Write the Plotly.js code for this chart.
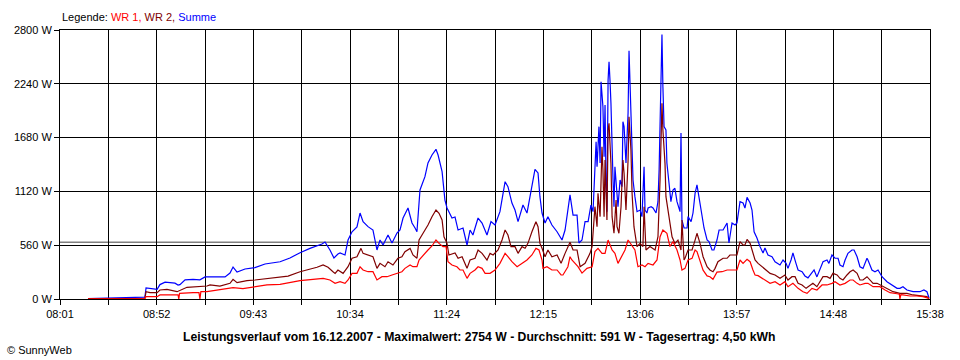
<!DOCTYPE html>
<html>
<head>
<meta charset="utf-8">
<script src="https://cdn.plot.ly/plotly-3.0.1.min.js"></script>
<style>html,body{margin:0;padding:0;background:#fff;}#chart{width:960px;height:360px;}</style>
</head>
<body>
<div id="chart"></div>
<script>
// time axis in minutes of the day (481 = 08:01)
const dayStart = 481;
const dayEnd = 938;
const xTickLabels = ['08:01','08:52','09:43','10:34','11:24','12:15','13:06','13:57','14:48','15:38'];
const yTickValues = [0, 560, 1120, 1680, 2240, 2800];
const yTickLabels = ['0 W', '560 W', '1120 W', '1680 W', '2240 W', '2800 W'];
const average = 591;

// Summe
const tSumme = [
495.7,502.0,512.5,517.8,525.6,526.2,528.3,532.0,533.5,536.2,
541.4,543.0,544.0,546.7,550.9,554.5,557.2,559.8,565.0,567.7,
570.3,571.9,574.0,578.2,583.4,588.7,596.6,601.8,607.1,612.3,
618.6,620.2,622.8,624.9,627.0,628.1,630.7,632.3,634.4,637.0,
638.6,640.2,642.8,645.4,647.5,649.1,650.7,653.3,655.4,658.0,
659.6,661.2,663.8,665.9,667.5,668.5,670.1,672.7,674.3,676.4,
678.5,679.6,681.7,683.2,684.3,686.9,688.5,690.1,692.7,694.8,
696.4,697.9,700.6,702.7,705.3,707.4,709.5,712.1,714.8,716.3,
718.4,720.0,721.6,724.2,726.3,728.9,730.5,732.1,733.1,734.2,
735.8,737.3,739.4,742.1,744.7,746.3,748.9,750.5,752.6,753.6,
755.2,756.8,758.4,759.9,761.0,762.6,763.1,764.1,764.7,765.2,
766.2,766.8,767.3,767.8,768.3,768.9,769.4,769.9,770.4,771.5,
772.0,772.5,773.6,774.1,775.2,776.2,776.7,777.3,778.3,778.8,
779.4,779.9,780.4,780.9,781.5,782.0,783.0,784.1,785.7,786.7,
787.8,788.3,789.3,789.9,791.5,792.5,794.1,795.1,795.7,796.2,
796.7,797.2,797.7,798.3,799.3,799.8,800.9,801.9,803.0,804.0,
805.1,806.1,806.7,807.2,807.7,808.8,810.4,810.9,812.5,813.5,
814.6,815.6,816.7,818.2,819.3,820.9,821.9,823.5,824.5,826.1,
827.2,829.3,831.4,832.4,834.0,835.6,836.6,838.2,839.8,840.8,
841.9,843.5,844.5,845.6,847.1,848.7,850.3,851.3,852.9,855.0,
856.6,859.2,860.8,862.4,863.4,865.0,866.0,867.6,868.7,870.8,
872.3,873.9,875.5,877.1,878.6,880.2,881.8,883.9,884.9,886.5,
888.1,889.7,890.7,892.3,893.4,894.9,897.0,898.1,899.7,901.2,
902.8,904.9,905.4,907.5,909.1,910.7,912.8,915.4,918.0,920.7,
922.2,923.8,925.9,929.1,932.7,934.8,936.4,937.5];
const pSumme = [
5,8,12,15,20,115,110,100,150,175,
165,145,150,200,205,200,230,230,235,230,
270,333,280,312,326,364,388,427,482,527,
572,593,510,427,468,479,458,614,700,750,
895,805,753,718,510,614,562,666,583,687,
718,843,947,791,739,700,1135,1273,1416,1499,
1558,1499,1325,1030,947,843,853,718,739,562,
718,666,843,791,666,805,770,909,1221,1169,
999,926,805,978,895,1187,1350,1312,1065,895,
791,857,770,700,614,718,1083,874,874,583,
614,805,805,978,909,1637,1377,1794,1416,2262,
2002,1481,2019,1239,909,2280,2470,2280,2040,1239,
961,1377,1100,961,1239,1169,1846,1794,1416,1655,
1936,2585,2280,1967,1416,1239,1065,909,926,857,
1377,926,895,947,961,947,895,1013,1343,1832,
2106,2754,2210,1794,1759,1416,1207,1013,1135,1152,
1013,947,909,1728,822,739,739,857,805,895,
1100,1187,1065,895,739,614,597,510,510,614,
718,718,791,583,791,770,791,1013,1000,947,
1058,999,926,700,635,545,479,531,458,440,
388,354,406,371,319,406,479,371,302,284,
240,220,267,302,230,302,388,406,371,458,
424,424,354,336,406,475,510,510,440,336,
319,424,406,302,284,302,232,180,146,111,
111,128,94,76,76,94,76,10];

// WR 2
const tWR2 = [
495.7,525.6,526.2,528.3,532.0,533.5,537.2,542.5,547.7,553.0,
558.2,559.8,565.0,570.3,571.9,574.0,579.2,583.4,589.7,596.6,
600.8,607.1,612.3,616.0,619.2,621.8,624.4,625.5,627.0,629.7,
632.3,634.4,637.0,639.1,640.2,642.8,645.4,647.5,649.1,651.7,
653.3,655.9,658.5,660.6,662.2,664.9,666.4,668.5,669.6,671.7,
674.3,676.4,678.5,680.1,681.7,682.7,684.3,685.3,687.4,688.5,
690.1,692.2,694.8,696.4,699.0,700.6,702.7,705.3,706.9,708.5,
711.1,713.2,714.8,716.3,717.9,720.0,721.6,723.7,725.3,726.8,
728.9,731.0,732.1,733.1,734.2,735.8,737.3,739.4,742.1,744.2,
746.3,748.9,750.5,752.6,754.2,756.8,759.4,760.5,762.0,763.1,
763.6,764.7,765.7,766.2,766.8,767.3,768.3,768.9,769.4,770.4,
771.0,772.0,773.1,773.6,774.6,775.7,776.7,777.3,778.3,779.4,
779.9,780.9,781.5,782.5,784.1,785.7,787.2,787.8,788.8,790.9,
793.6,795.1,796.2,796.7,797.2,797.7,798.8,799.3,799.8,800.9,
802.5,804.0,805.6,807.2,807.7,808.8,809.3,810.9,813.0,814.6,
815.6,817.2,818.8,820.9,822.4,824.0,825.1,826.6,829.3,831.4,
832.9,835.6,836.6,838.2,839.8,840.8,841.9,843.5,844.5,846.1,
847.7,849.8,851.3,854.0,856.6,859.2,861.8,863.4,865.5,867.1,
868.7,870.8,872.9,875.0,876.5,878.6,880.2,881.8,883.9,885.5,
887.0,889.2,890.7,892.3,894.4,896.0,897.6,899.7,901.2,902.8,
904.9,906.5,908.1,910.2,911.7,913.3,915.9,918.6,922.2,925.9,
929.1,932.7,936.4,937.5];
const pWR2 = [
3,8,76,66,66,94,101,76,122,128,
135,146,135,163,205,170,191,198,215,226,
239,284,309,330,354,330,284,267,302,267,
336,424,440,527,475,458,440,319,371,336,
388,354,424,440,493,527,458,424,614,684,
770,857,926,892,822,648,579,458,475,480,
424,440,319,406,424,510,475,406,475,458,
510,614,718,666,545,545,475,545,528,579,
700,805,753,579,528,440,510,440,458,371,
475,590,510,510,336,371,475,546,961,753,
1100,857,1585,1343,857,1447,822,1759,1829,1412,
857,684,1030,753,684,961,1447,1308,926,1447,
1898,1551,1100,753,546,579,546,961,510,546,
510,648,1239,1759,2037,1759,1412,1065,996,892,
648,579,613,510,822,406,423,510,510,613,
684,579,440,336,302,284,319,388,424,424,
458,458,458,597,562,562,621,579,510,406,
371,336,302,267,250,215,250,198,232,232,
163,146,111,146,163,128,180,232,232,215,
267,250,215,198,250,284,302,267,198,198,
232,198,163,163,146,128,101,76,59,58,
42,31,24,0];

// WR 1
const tWR1 = [
495.7,525.6,526.2,532.0,533.5,543.0,543.4,543.8,550.9,554.0,
554.5,555.0,558.2,565.0,571.9,577.1,583.4,589.7,596.6,601.8,
607.1,613.9,619.2,622.8,625.5,628.1,630.7,632.3,634.4,637.0,
638.6,640.2,642.8,645.4,647.5,650.1,652.8,655.4,658.0,660.6,
662.2,664.9,666.4,668.5,669.6,671.7,674.3,676.4,678.5,680.1,
682.2,683.8,684.8,686.9,689.5,691.1,692.7,694.8,696.4,699.0,
700.6,702.7,704.3,706.9,709.5,712.1,714.8,716.3,718.4,721.1,
723.7,726.3,728.9,731.0,732.6,734.2,734.7,736.8,739.4,742.1,
744.2,745.2,747.8,748.9,749.9,751.5,753.1,755.2,757.8,760.5,
762.0,763.6,765.7,767.3,768.9,771.0,772.5,774.1,776.2,777.8,
779.4,781.5,783.0,784.6,786.7,788.3,789.9,792.5,794.6,796.2,
797.7,799.8,801.4,803.0,805.1,806.7,807.7,809.3,810.9,813.0,
814.6,815.6,817.2,818.8,820.9,822.4,824.0,826.1,828.8,831.4,
832.9,836.6,838.2,839.8,841.9,843.5,845.0,846.1,847.7,849.8,
851.3,854.0,856.6,859.2,861.8,863.4,866.0,868.7,871.3,873.4,
876.0,878.6,881.3,883.9,886.5,888.1,890.7,893.4,896.0,897.6,
899.7,901.2,903.9,905.4,908.1,911.7,914.4,917.0,920.7,921.9,
922.2,922.7,923.8,927.5,931.2,934.3,937.5];
const pWR1 = [
2,5,24,24,42,42,0,59,66,66,
0,76,76,94,118,108,128,146,153,170,
191,205,215,198,163,180,163,198,267,267,
336,302,284,284,198,232,232,250,267,284,
319,354,336,336,406,458,510,552,614,579,
545,545,388,354,336,302,302,215,267,302,
336,319,267,267,302,371,475,440,388,336,
371,406,458,527,510,406,319,336,302,302,
250,250,336,440,406,371,336,270,319,336,
493,527,475,475,614,510,475,371,458,510,
614,546,510,336,354,336,371,354,406,648,
718,684,546,597,510,406,302,319,406,423,
510,493,400,300,240,232,205,280,284,302,
302,302,406,371,413,388,302,250,243,215,
198,163,180,146,180,128,163,111,76,59,
111,94,146,146,163,180,146,163,198,198,
163,146,163,163,128,128,94,66,55,50,
0,45,42,31,31,24,7];

const nGrid = 18;
const xTickVals = [];
const xTickText = [];
for (let k = 0; k <= nGrid; k++) {
  xTickVals.push(dayStart + k * (dayEnd - dayStart) / nGrid);
  xTickText.push(k % 2 === 0 ? xTickLabels[k / 2] : '');
}

const font = {family: 'Liberation Sans, Arial, sans-serif', size: 11, color: '#000'};

const traces = [
  {x: tSumme, y: pSumme, type: 'scatter', mode: 'lines', name: 'Summe',
   line: {color: '#0000FF', width: 1.2}, hoverinfo: 'skip'},
  {x: tWR2, y: pWR2, type: 'scatter', mode: 'lines', name: 'WR 2',
   line: {color: '#800000', width: 1.2}, hoverinfo: 'skip'},
  {x: tWR1, y: pWR1, type: 'scatter', mode: 'lines', name: 'WR 1',
   line: {color: '#FF0000', width: 1.2}, hoverinfo: 'skip'}
];

const axisCommon = {
  showgrid: true, gridcolor: '#000', gridwidth: 1,
  showline: true, linecolor: '#000', linewidth: 1, mirror: true,
  ticks: 'outside', ticklen: 5, tickcolor: '#000', tickwidth: 1,
  zeroline: false, fixedrange: true, tickfont: font
};

const layout = {
  width: 960, height: 360,
  margin: {l: 60, r: 30, t: 30, b: 61, pad: 0},
  paper_bgcolor: '#fff', plot_bgcolor: '#fff',
  showlegend: false,
  font: font,
  xaxis: Object.assign({}, axisCommon, {
    range: [dayStart, dayEnd], tickmode: 'array', tickvals: xTickVals, ticktext: xTickText
  }),
  yaxis: Object.assign({}, axisCommon, {
    range: [0, 2800], tickmode: 'array', tickvals: yTickValues, ticktext: yTickLabels
  }),
  shapes: [
    {type: 'line', xref: 'paper', x0: 0, x1: 1, yref: 'y', y0: average, y1: average,
     line: {color: '#808080', width: 1.5}, layer: 'below'}
  ],
  annotations: [
    {xref: 'paper', yref: 'paper', x: 0, y: 1.048, xanchor: 'left', yanchor: 'middle',
     showarrow: false, font: font,
     text: 'Legende: <span style="color:#FF0000">WR 1, </span><span style="color:#800000">WR 2, </span><span style="color:#0000FF">Summe</span>'},
    {xref: 'paper', yref: 'paper', x: 0.482, y: -0.141, xanchor: 'center', yanchor: 'middle',
     showarrow: false, font: {family: 'Liberation Sans, Arial, sans-serif', size: 12.2, color: '#000'},
     text: '<b>Leistungsverlauf vom 16.12.2007 - Maximalwert: 2754 W - Durchschnitt: 591 W - Tagesertrag: 4,50 kWh</b>'},
    {xref: 'paper', yref: 'paper', x: -0.0632, y: -0.19, xanchor: 'left', yanchor: 'middle',
     showarrow: false, font: font, text: '© SunnyWeb'}
  ]
};

Plotly.newPlot('chart', traces, layout, {displayModeBar: false, staticPlot: true});
</script>
</body>
</html>
